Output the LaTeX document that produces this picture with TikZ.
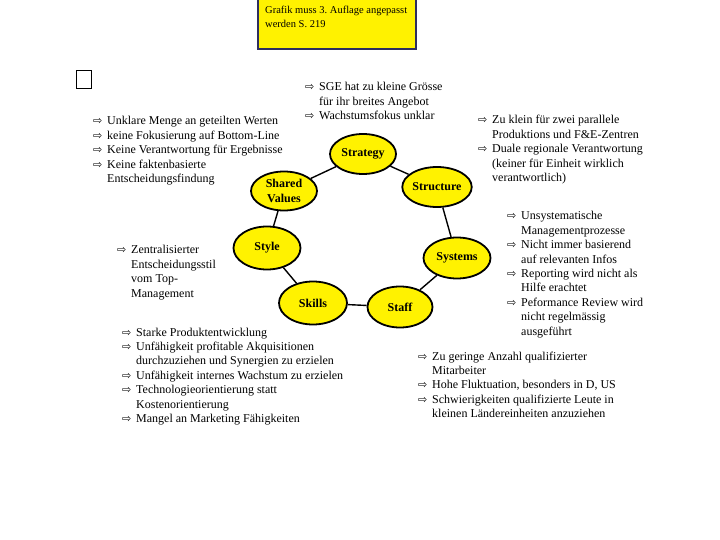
\documentclass[tikz,border=0pt]{standalone}
\usepackage{fontspec}
\setmainfont{Liberation Serif}
\newfontfamily\arrowfont{DejaVu Sans}
\usetikzlibrary{shapes.geometric,positioning}
\definecolor{navy}{HTML}{2E2E5E}
\frenchspacing
\newcommand{\pnt}{\makebox[14pt][l]{\arrowfont\fontsize{11}{11}\selectfont ⇨}}
\newcommand{\cnt}{\hspace*{14pt}}

\begin{document}
\begin{tikzpicture}[x=1pt,y=-1pt,
  oval/.style={ellipse,draw,line width=1.8pt,fill=yellow,inner sep=0pt,
    minimum width=66pt,minimum height=40pt,align=center,
    font=\fontsize{12}{15}\selectfont\bfseries},
  link/.style={line width=1.4pt},
  notes/.style={inner sep=0pt,anchor=base west,font=\fontsize{12}{14.4}\selectfont}]
  \fill[white] (0,0) rectangle (720,540);
  \useasboundingbox (0,0) rectangle (720,540);
  % remark on top
  \node (note) [draw=navy,line width=2pt,fill=yellow,anchor=north west,
    minimum width=158pt,minimum height=50pt,inner sep=0pt] at (257,-2) {};
  \node (notetext) [inner sep=0pt,anchor=base west,font=\fontsize{10.5}{14}\selectfont]
    at (265,14) {\begin{tabular}[t]{@{}l@{}}Grafik muss 3. Auflage angepasst\\werden S. 219\end{tabular}};
  \node (blank) [draw,line width=0.8pt,minimum width=15pt,minimum height=18pt,
    inner sep=0pt,anchor=north west] at (76,70) {};
  % the seven S
  \node[oval] (strat)   at (363,154) {Strategy};
  \node[oval,minimum width=67pt] (struct) at (437,187) {Structure};
  \node[oval,minimum width=67pt,minimum height=41pt] (systems) at (457,258) {Systems};
  \node[oval,minimum width=65pt,minimum height=41pt] (staff) at (400,307) {Staff};
  \node[oval,minimum width=68pt,minimum height=43pt] (skills) at (313,303) {Skills};
  \node[oval,minimum width=67pt,minimum height=43pt] (style) at (267,248) {Style};
  \node[oval,minimum height=39pt] (shared) at (284,191) {Shared\\Values};
  \foreach \a/\b in {strat/struct,struct/systems,systems/staff,staff/skills,
    skills/style,style/shared,shared/strat}
    \draw[link] (\a) -- (\b);
  % comments around the ring
  \node[notes] (valnotes) at (93,125) {\begin{tabular}[t]{@{}l@{}}
    \pnt Unklare Menge an geteilten Werten\\
    \pnt keine Fokusierung auf Bottom-Line\\
    \pnt Keine Verantwortung für Ergebnisse\\
    \pnt Keine faktenbasierte\\
    \cnt Entscheidungsfindung\end{tabular}};
  \node[notes] (stratnotes) at (305,91) {\begin{tabular}[t]{@{}l@{}}
    \pnt SGE hat zu kleine Grösse\\
    \cnt für ihr breites Angebot\\
    \pnt Wachstumsfokus unklar\end{tabular}};
  \node[notes] (structnotes) at (478,124) {\begin{tabular}[t]{@{}l@{}}
    \pnt Zu klein für zwei parallele\\
    \cnt Produktions und F\&E-Zentren\\
    \pnt Duale regionale Verantwortung\\
    \cnt (keiner für Einheit wirklich\\
    \cnt verantwortlich)\end{tabular}};
  \node[notes] (stylenotes) at (117,254) {\begin{tabular}[t]{@{}l@{}}
    \pnt Zentralisierter\\
    \cnt Entscheidungsstil\\
    \cnt vom Top-\\
    \cnt Management\end{tabular}};
  \node[notes] (skillnotes) at (122,336) {\begin{tabular}[t]{@{}l@{}}
    \pnt Starke Produktentwicklung\\
    \pnt Unfähigkeit profitable Akquisitionen\\
    \cnt durchzuziehen und Synergien zu erzielen\\
    \pnt Unfähigkeit internes Wachstum zu erzielen\\
    \pnt Technologieorientierung statt\\
    \cnt Kostenorientierung\\
    \pnt Mangel an Marketing Fähigkeiten\end{tabular}};
  \node[notes] (sysnotes) at (507,220) {\begin{tabular}[t]{@{}l@{}}
    \pnt Unsystematische\\
    \cnt Managementprozesse\\
    \pnt Nicht immer basierend\\
    \cnt auf relevanten Infos\\
    \pnt Reporting wird nicht als\\
    \cnt Hilfe erachtet\\
    \pnt Peformance Review wird\\
    \cnt nicht regelmässig\\
    \cnt ausgeführt\end{tabular}};
  \node[notes] (staffnotes) at (418,360) {\begin{tabular}[t]{@{}l@{}}
    \pnt Zu geringe Anzahl qualifizierter\\
    \cnt Mitarbeiter\\
    \pnt Hohe Fluktuation, besonders in D, US\\
    \pnt Schwierigkeiten qualifizierte Leute in\\
    \cnt kleinen Ländereinheiten anzuziehen\end{tabular}};
\end{tikzpicture}
\end{document}
